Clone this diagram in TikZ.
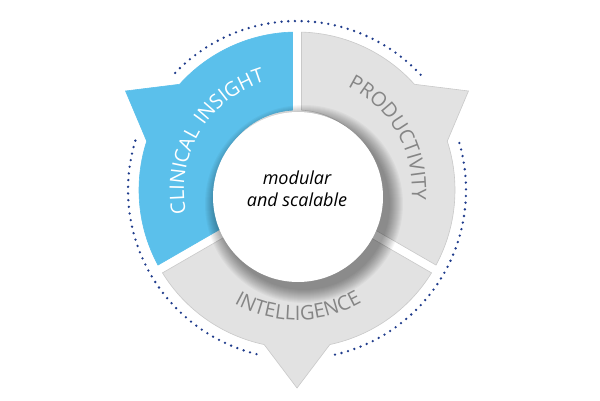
\documentclass[tikz,border=0pt]{standalone}
\usepackage{fontspec}
\setmainfont{Open Sans}
\newfontfamily\ringfont[LetterSpace=6]{Open Sans}
\usetikzlibrary{decorations.text}
\definecolor{ringblue}{HTML}{5BC0EB}
\definecolor{ringgray}{HTML}{E2E2E2}
\definecolor{ringedge}{HTML}{C9C9C9}
\definecolor{labelgray}{HTML}{858585}
\definecolor{dotblue}{HTML}{1F3C8C}
\begin{document}
\begin{tikzpicture}[
  segment/.style={line width=0.6pt, line join=miter},
  dotring/.style={dotblue, line width=2.6pt, line cap=round, dash pattern=on 0pt off 6.7pt},
  ringtext/.style={decorate, decoration={text along path, text align=center, text={#1}}},
]
\useasboundingbox (0,0) rectangle (600pt,400pt);
\fill[white] (0,0) rectangle (600pt,400pt);
\begin{scope}[shift={(297pt,210pt)}]
  \foreach \s/\e in {43/137,163/257,283/377}
    \draw[dotring] ({\s}:169pt) arc[start angle=\s, end angle=\e, radius=169pt];
  \foreach \a/\fc/\dc in {90/ringblue/ringblue,-30/ringgray/ringedge,210/ringgray/ringedge}{
    \pgfmathsetmacro\f{\a+60}
    \pgfmathsetmacro\b{\a+120}
    \filldraw[fill=\fc, draw=\dc, segment]
      ({\a+3.22}:80pt) -- ({\a+1.63}:158pt)
      arc[start angle=\a+1.63, end angle=\f-12, radius=158pt]
      -- ({\f}:198pt) -- ({\f+12}:158pt)
      arc[start angle=\f+12, end angle=\b-1.63, radius=158pt]
      -- ({\b-3.22}:80pt)
      arc[start angle=\b-3.22, end angle=\a+3.22, radius=80pt] -- cycle;
  }
  \path[ringtext={|\ringfont\fontsize{20pt}{20pt}\selectfont\color{white}|CLINICAL INSIGHT}]
    (219:113pt) arc[start angle=219, end angle=79, radius=113pt];
  \path[ringtext={|\ringfont\fontsize{20pt}{20pt}\selectfont\color{labelgray}|PRODUCTIVITY}]
    (99.5:115pt) arc[start angle=99.5, end angle=-40.5, radius=115pt];
  \path[ringtext={|\ringfont\fontsize{20pt}{20pt}\selectfont\color{labelgray}|INTELLIGENCE}]
    (200.5:130pt) arc[start angle=200.5, end angle=340.5, radius=130pt];
\end{scope}
% shadow of the hub
\foreach \r in {86,87,...,99}
  \fill[black, opacity=0.03] (304pt,196pt) circle[radius=\r pt];
\node (hub) [circle, fill=white, minimum size=170pt, inner sep=0pt] at (298pt,203pt) {};
\node (hublabel) [align=center, font=\itshape\fontsize{18pt}{22pt}\selectfont] at (297pt,211pt) {modular\\and scalable};
\end{tikzpicture}
\end{document}
